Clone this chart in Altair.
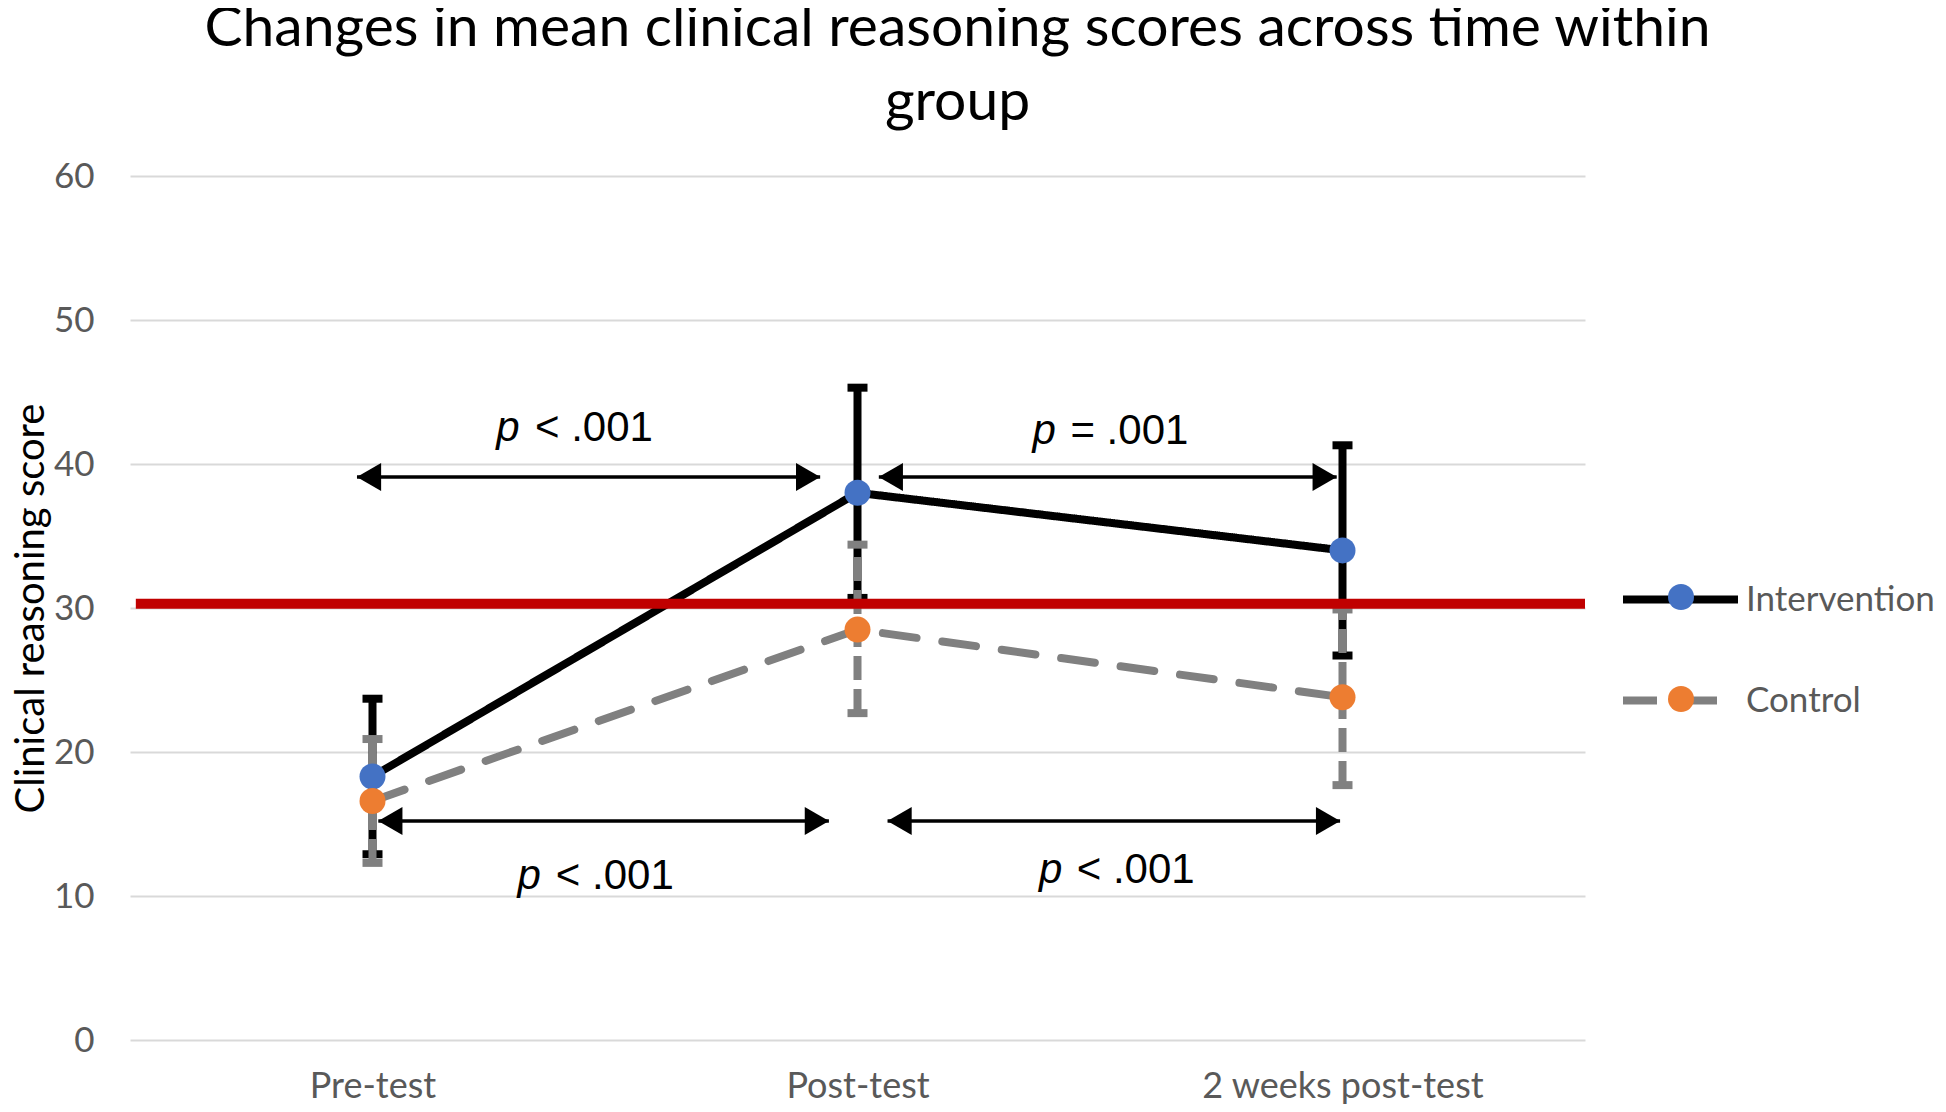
import json
import altair as alt
import pandas as pd

# ---------------- data ----------------
categories = ["Pre-test", "Post-test", "2 weeks post-test"]
groups = ["Intervention", "Control"]

intervention_mean = [18.3, 38.0, 34.0]
intervention_upper = [23.7, 45.3, 41.3]
intervention_lower = [12.9, 30.7, 26.7]

control_mean = [16.6, 28.5, 23.8]
control_upper = [20.9, 34.4, 29.9]
control_lower = [12.3, 22.7, 17.7]

# red reference line (score) and its x-extent in category units (0..3)
cutoff_score = [30.3]
cutoff_start = [0.012]
cutoff_end = [3.0]

# significance arrows (x in category units, category centres at 0.5, 1.5, 2.5)
arrow_x1 = [0.468, 1.544, 0.512, 1.562]
arrow_x2 = [1.423, 2.488, 1.441, 2.495]
arrow_y = [39.1, 39.1, 15.2, 15.2]

# p-value labels
p_x = [0.755, 1.861, 0.799, 1.874]
p_rest_x = [0.835, 1.939, 0.878, 1.952]
p_y = [41.6, 41.4, 10.5, 10.9]
p_relation = ["< .001", "= .001", "< .001", "< .001"]

# ---------------- tables ----------------
rows = []
for g, m, lo, up in [
    ("Intervention", intervention_mean, intervention_lower, intervention_upper),
    ("Control", control_mean, control_lower, control_upper),
]:
    for i, c in enumerate(categories):
        rows.append({"group": g, "cat": c, "pos": i + 0.5,
                     "mean": m[i], "lower": lo[i], "upper": up[i]})
df = pd.DataFrame(rows)
df_int = df[df.group == "Intervention"]
df_ctl = df[df.group == "Control"]

cut_df = pd.DataFrame({"x1": cutoff_start, "x2": cutoff_end, "y": cutoff_score})
arr_df = pd.DataFrame({"x1": arrow_x1, "x2": arrow_x2, "y": arrow_y})
p_df = pd.DataFrame({"px": p_x, "rx": p_rest_x, "y": p_y, "rel": p_relation})

BLACK = "#000000"
GRAY = "#808080"
BLUE = "#4472C4"
ORANGE = "#ED7D31"
RED = "#C00000"
LABEL = "#595959"

xscale = alt.Scale(domain=[0, 3], nice=False, zero=False)
yscale = alt.Scale(domain=[0, 60], nice=False)

label_expr = json.dumps(categories) + "[floor(datum.value)]"

x_axis = alt.Axis(values=[0.5, 1.5, 2.5], labelExpr=label_expr, title=None,
                  grid=False, domain=False, ticks=False, labelLimit=600,
                  labelFont="Lato", labelFontSize=36, labelColor=LABEL,
                  labelPadding=57, labelBaseline="alphabetic")
y_axis = alt.Axis(values=[0, 10, 20, 30, 40, 50, 60], title="Clinical reasoning score",
                  grid=True, gridColor="#D9D9D9", gridWidth=2,
                  domain=False, ticks=False,
                  labelFont="Lato", labelFontSize=35, labelColor=LABEL, labelPadding=36,
                  titleFont="Lato", titleFontSize=40, titleFontWeight="normal",
                  titleColor=BLACK, titleX=-99, titleY=432, titleAngle=270,
                  titleBaseline="middle", titleAlign="center")


def xq(field):
    return alt.X(field, scale=xscale, axis=x_axis)


def yq(field):
    return alt.Y(field, scale=yscale, axis=y_axis)


line_legend = alt.Legend(
    orient="none", legendX=1489, legendY=362, title=None,
    symbolType="stroke", symbolSize=13225, symbolStrokeWidth=8,
    labelFont="Lato", labelFontSize=35, labelColor=LABEL, labelLimit=500,
    labelOffset=4, rowPadding=21, padding=0,
)

lines = alt.Chart(df).mark_line(strokeWidth=8, strokeCap="round", strokeJoin="round").encode(
    x=xq("pos:Q"),
    y=yq("mean:Q"),
    stroke=alt.Stroke("group:N", scale=alt.Scale(domain=groups, range=[BLACK, GRAY]),
                      legend=line_legend),
    strokeDash=alt.StrokeDash("group:N", scale=alt.Scale(domain=groups, range=[[1, 0], [34, 26]]),
                              legend=line_legend),
    detail="group:N",
)

int_bar = alt.Chart(df_int).mark_rule(color=BLACK, strokeWidth=8).encode(
    x=xq("pos:Q"), y=yq("lower:Q"), y2="upper:Q")
int_cap_hi = alt.Chart(df_int).mark_tick(orient="horizontal", color=BLACK, size=20,
                                         thickness=8, opacity=1).encode(x=xq("pos:Q"), y=yq("upper:Q"))
int_cap_lo = alt.Chart(df_int).mark_tick(orient="horizontal", color=BLACK, size=20,
                                         thickness=8, opacity=1).encode(x=xq("pos:Q"), y=yq("lower:Q"))

ctl_bar = alt.Chart(df_ctl).mark_rule(color=GRAY, strokeWidth=8, strokeDash=[24, 9]).encode(
    x=xq("pos:Q"), y=yq("lower:Q"), y2="upper:Q")
ctl_cap_hi = alt.Chart(df_ctl).mark_tick(orient="horizontal", color=GRAY, size=20,
                                         thickness=8, opacity=1).encode(x=xq("pos:Q"), y=yq("upper:Q"))
ctl_cap_lo = alt.Chart(df_ctl).mark_tick(orient="horizontal", color=GRAY, size=20,
                                         thickness=8, opacity=1).encode(x=xq("pos:Q"), y=yq("lower:Q"))

point_legend = alt.Legend(
    orient="none", legendX=1538, legendY=408, title=None,
    symbolType="circle", symbolSize=676, symbolStrokeWidth=0,
    labelExpr="''", labelFontSize=1, rowPadding=76, padding=0,
)
points = alt.Chart(df).mark_circle(size=676, opacity=1).encode(
    x=xq("pos:Q"), y=yq("mean:Q"),
    color=alt.Color("group:N", sort=groups, scale=alt.Scale(range=[BLUE, ORANGE]),
                    legend=point_legend),
)

red = alt.Chart(cut_df).mark_rule(color=RED, strokeWidth=10).encode(
    x=xq("x1:Q"), x2="x2:Q", y=yq("y:Q"))

arr_line = alt.Chart(arr_df).mark_rule(color=BLACK, strokeWidth=3.5).encode(
    x=xq("x1:Q"), x2="x2:Q", y=yq("y:Q"))
arr_left = alt.Chart(arr_df).mark_point(shape="triangle-left", filled=True, size=784,
                                        color=BLACK, opacity=1, xOffset=12).encode(
    x=xq("x1:Q"), y=yq("y:Q"))
arr_right = alt.Chart(arr_df).mark_point(shape="triangle-right", filled=True, size=784,
                                         color=BLACK, opacity=1, xOffset=-12).encode(
    x=xq("x2:Q"), y=yq("y:Q"))

p_text = alt.Chart(p_df).mark_text(text="p", align="left", baseline="alphabetic",
                                   font="Liberation Sans", fontSize=42, fontStyle="italic",
                                   color=BLACK).encode(x=xq("px:Q"), y=yq("y:Q"))
rel_text = alt.Chart(p_df).mark_text(align="left", baseline="alphabetic",
                                     font="Liberation Sans", fontSize=42,
                                     color=BLACK).encode(x=xq("rx:Q"), y=yq("y:Q"), text="rel:N")

chart = alt.layer(
    lines, int_bar, int_cap_hi, int_cap_lo, ctl_bar, ctl_cap_hi, ctl_cap_lo,
    points, red, arr_line, arr_left, arr_right, p_text, rel_text,
).properties(
    width=1455, height=864,
    autosize=alt.AutoSizeParams(type="none"),
    padding={"left": 122, "top": 168, "right": 353, "bottom": 64},
    title=alt.TitleParams(
        text=["Changes in mean clinical reasoning scores across time within", "group"],
        font="Lato", fontSize=57, fontWeight="normal", color=BLACK,
        lineHeight=74, anchor="middle", frame="group", dx=100, dy=23, offset=50,
    ),
).configure_view(stroke=None)

chart.save("out.html", embed_options={"renderer": "svg", "actions": False})
